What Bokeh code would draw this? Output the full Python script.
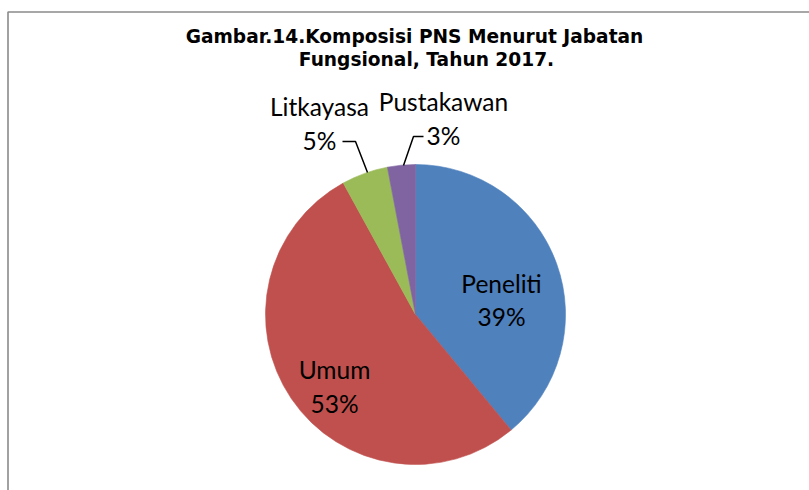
import math
from bokeh.plotting import figure
from bokeh.models import ColumnDataSource, Range1d
from bokeh.core.properties import value
from bokeh.embed import file_html
from bokeh.resources import INLINE

# ---- data ----
categories = ["Peneliti", "Umum", "Litkayasa", "Pustakawan"]
percents = [39, 53, 5, 3]
colors = ["#4F81BD", "#C0504D", "#9BBB59", "#8064A2"]
title_lines = ["Gambar.14.Komposisi PNS Menurut Jabatan", "Fungsional, Tahun 2017."]

W, H = 809, 490
def sy(y):
    return H - y

# ---- layout (screen px) ----
cx, cy, r = 415, 314, 150
label_pos = {  # center x, baseline y of name, baseline y of percent
    "Peneliti": (501, 283, 316),
    "Umum": (334, 369, 403),
    "Litkayasa": (319, 106, 140),
    "Pustakawan": (443, 101, 135),
}

p = figure(width=W, height=H, output_backend="svg", toolbar_location=None,
           x_range=Range1d(0, W), y_range=Range1d(0, H),
           x_axis_location=None, y_axis_location=None, min_border=0)
p.grid.visible = False
p.outline_line_color = None
p.background_fill_color = "white"
p.border_fill_color = "white"

# frame (cropped chart border)
p.line([7.5, 7.5, W + 5], [sy(H + 5), sy(11.5), sy(11.5)], line_color="#8a8a8a", line_width=1.6)

# wedges, starting at 12 o'clock going clockwise
total = float(sum(percents))
starts, ends = [], []
cum = 0.0
for v in percents:
    a0 = math.pi / 2 - 2 * math.pi * (cum + v) / total
    a1 = math.pi / 2 - 2 * math.pi * cum / total
    starts.append(a0)
    ends.append(a1)
    cum += v
src = ColumnDataSource(dict(start=starts, end=ends, color=colors, cat=categories))
p.wedge(x=cx, y=sy(cy), radius=r, start_angle="start", end_angle="end",
        fill_color="color", line_color="color", line_width=0.6, source=src)

# leader lines
p.line([342, 355, 367], [sy(141), sy(141), sy(172)], line_color="black", line_width=1.5)
p.line([423, 413, 403], [sy(136), sy(136), sy(165)], line_color="black", line_width=1.5)

# labels
xs, ys, txt = [], [], []
for c, v in zip(categories, percents):
    x, y1, y2 = label_pos[c]
    xs += [x, x]
    ys += [sy(y1), sy(y2)]
    txt += [c, f"{v}%"]
p.text(x=xs, y=ys, text=txt, text_align="center", text_baseline="alphabetic",
       text_font=value("Lato"), text_font_size="24.5px", text_color="black")

# title
p.text(x=[414, 426], y=[sy(36), sy(59)], text=title_lines, text_align="center",
       text_baseline="alphabetic", text_font=value("DejaVu Sans"), text_font_style="bold",
       text_font_size="18.6px", text_color="black")

open("out.html", "w").write(file_html(p, INLINE))
